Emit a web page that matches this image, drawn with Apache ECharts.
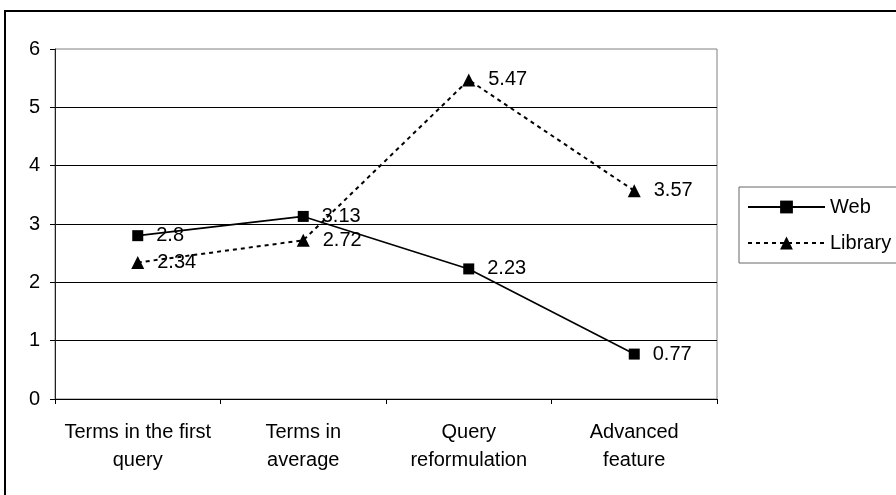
<!DOCTYPE html>
<html>
<head>
<meta charset="utf-8">
<style>
  html, body { margin: 0; padding: 0; background: #fff; }
  #chart { width: 896px; height: 495px; }
</style>
<script src="https://cdn.jsdelivr.net/npm/echarts@6/dist/echarts.min.js"></script>
</head>
<body>
<div id="chart"></div>
<script>
// Query behaviour: average counts for web vs. library searchers
const categories = [
  'Terms in the first\nquery',
  'Terms in\naverage',
  'Query\nreformulation',
  'Advanced\nfeature'
];
const webValues = [2.8, 3.13, 2.23, 0.77];
const libraryValues = [2.34, 2.72, 5.47, 3.57];
const yTicks = { min: 0, max: 6, interval: 1 };

const FONT = "'Liberation Sans', Arial, sans-serif";

const chart = echarts.init(document.getElementById('chart'), null, { renderer: 'canvas' });

const labelStyle = {
  show: true,
  position: 'right',
  distance: 13,
  color: '#000',
  fontSize: 20,
  fontFamily: FONT
};

chart.setOption({
  backgroundColor: '#fff',
  animation: false,
  textStyle: { fontFamily: FONT },
  graphic: [{
    // outer frame of the figure
    type: 'rect',
    shape: { x: 5, y: 11, width: 960, height: 560 },
    style: { fill: 'none', stroke: '#000', lineWidth: 2 },
    silent: true,
    z: -10
  }],
  grid: {
    left: 55, top: 49, right: 179, bottom: 96,
    show: true,
    borderColor: '#808080',
    borderWidth: 1,
    backgroundColor: '#fff'
  },
  legend: {
    orient: 'vertical',
    left: 739,
    top: 187,
    padding: [10, 12, 10, 8],
    itemGap: 16,
    itemWidth: 77,
    itemHeight: 16,
    borderColor: '#666',
    borderWidth: 1,
    backgroundColor: '#fff',
    textStyle: { color: '#000', fontSize: 20, fontFamily: FONT },
    data: ['Web', 'Library']
  },
  xAxis: {
    type: 'category',
    data: categories,
    boundaryGap: true,
    axisLine: { show: true, lineStyle: { color: '#000', width: 1 } },
    axisTick: { show: true, length: 5, inside: false, lineStyle: { color: '#000' } },
    axisLabel: {
      color: '#000',
      fontSize: 20,
      fontFamily: FONT,
      lineHeight: 28,
      margin: 19,
      interval: 0
    },
    splitLine: { show: false }
  },
  yAxis: {
    type: 'value',
    min: yTicks.min,
    max: yTicks.max,
    interval: yTicks.interval,
    axisLine: { show: true, lineStyle: { color: '#222', width: 1 } },
    axisTick: { show: true, length: 5, inside: false, lineStyle: { color: '#000' } },
    axisLabel: { color: '#000', fontSize: 20, fontFamily: FONT, margin: 15 },
    splitLine: { show: true, showMaxLine: false, lineStyle: { color: '#000', width: 1 } }
  },
  series: [
    {
      name: 'Web',
      type: 'line',
      data: webValues,
      symbol: 'rect',
      symbolSize: 11,
      color: '#000',
      lineStyle: { color: '#000', width: 1.6, type: 'solid' },
      itemStyle: { color: '#000' },
      label: labelStyle,
      z: 3
    },
    {
      name: 'Library',
      type: 'line',
      data: libraryValues,
      symbol: 'triangle',
      symbolSize: 13,
      color: '#000',
      lineStyle: { color: '#000', width: 2, type: [4, 4] },
      itemStyle: { color: '#000' },
      label: labelStyle,
      z: 4
    }
  ]
});
</script>
</body>
</html>
